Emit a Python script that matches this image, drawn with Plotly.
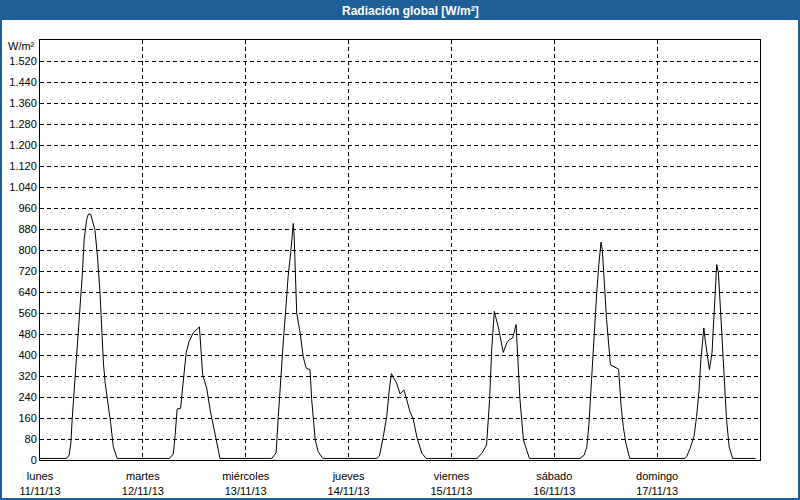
import plotly.graph_objects as go
import pandas as pd

# ---- data (hours since Mon 11/11/13 00:00, W/m²) ----
hours = [0, 6.2, 6.8, 7.2, 7.5, 8.0, 8.8, 9.3, 9.9, 10.3, 10.9, 11.3, 11.8, 12.8, 13.4, 14.0, 14.4, 14.8, 15.2, 15.9, 16.5, 17.1, 18.0,
         30.2, 31.1, 31.5, 32.0, 32.8, 33.3, 34.1, 34.8, 35.8, 36.7, 37.2, 37.95, 38.9, 39.7, 40.8, 42.0,
         54.1, 55.1, 55.6, 56.2, 56.8, 57.4, 57.9, 58.5, 59.1, 59.3, 59.9, 60.7, 61.4, 62.1, 63.0, 63.4, 64.2, 64.9, 66.0,
         78.6, 79.2, 80.1, 80.9, 81.5, 82.0, 82.4, 83.2, 84.0, 84.9, 85.6, 86.3, 87.1, 88.0, 89.1, 90.1,
         102.0, 103.1, 104.2, 104.9, 105.4, 106.0, 106.9, 108.1, 108.9, 109.5, 110.3, 111.1, 111.2, 112.0, 112.8, 114.2,
         126.0, 127.0, 127.6, 128.1, 128.7, 129.3, 129.9, 130.4, 130.9, 131.2, 132.2, 133.1, 134.1, 135.0, 135.6, 136.1, 136.7, 137.6,
         150.5, 150.9, 151.7, 152.6, 153.2, 153.8, 154.2, 154.9, 155.2, 155.7, 156.2, 156.8, 157.3, 157.9, 158.3, 158.9, 159.6, 160.2, 160.8, 161.6, 167.0]
radiation = [6, 6, 19, 65, 153, 267, 458, 560, 713, 840, 917, 937, 937, 879, 777, 637, 497, 369, 294, 217, 140, 51, 6,
             6, 23, 89, 194, 197, 280, 408, 452, 486, 499, 507, 325, 274, 191, 102, 6,
             6, 28, 165, 331, 458, 586, 700, 790, 901, 853, 560, 484, 395, 350, 344, 229, 79, 32, 6,
             6, 15, 89, 165, 267, 329, 316, 293, 252, 267, 229, 185, 155, 83, 26, 6,
             6, 26, 57, 229, 420, 566, 509, 410, 446, 458, 465, 516, 478, 229, 76, 6,
             6, 19, 51, 140, 306, 497, 637, 745, 830, 802, 535, 363, 354, 346, 204, 127, 64, 6,
             6, 13, 45, 89, 165, 267, 382, 503, 458, 401, 344, 408, 547, 745, 713, 547, 318, 153, 51, 6, 6]

day_names = ["lunes", "martes", "miércoles", "jueves", "viernes", "sábado", "domingo"]
day_dates = ["11/11/13", "12/11/13", "13/11/13", "14/11/13", "15/11/13", "16/11/13", "17/11/13"]
y_ticks = list(range(0, 1600, 80))
y_labels = [f"{v:,}".replace(",", ".") for v in y_ticks]

title = "Radiación global [W/m²]"
y_unit = "W/m²"

start = pd.Timestamp("2013-11-11")
times = start + pd.to_timedelta(hours, unit="h")
day_ticks = [start + pd.Timedelta(days=i) for i in range(7)]

W, H = 800, 500
ML, MR, MT, MB = 40, 40, 40, 40
BLUE = "#1E6096"
FONT = "Liberation Sans"

def px_x(x):
    return (x - ML) / (W - ML - MR)

def px_y(y):
    return (H - MB - y) / (H - MT - MB)

fig = go.Figure()
fig.add_trace(go.Scatter(x=times, y=radiation, mode="lines",
                         line=dict(color="black", width=1), hoverinfo="skip"))

fig.update_layout(
    width=W, height=H,
    margin=dict(l=ML, r=MR, t=MT, b=MB),
    paper_bgcolor="white", plot_bgcolor="white",
    showlegend=False,
    font=dict(family=FONT, size=11, color="black"),
    xaxis=dict(type="date", range=[start, start + pd.Timedelta(days=7)],
               tickvals=day_ticks,
               ticktext=[f"{n}<br>{d}" for n, d in zip(day_names, day_dates)],
               showgrid=True, gridcolor="black", gridwidth=1, griddash="4px,3px",
               showline=True, linecolor="black", linewidth=1, mirror=True,
               ticks="", zeroline=False, automargin=False, ticklabelstandoff=6,
               tickfont=dict(family=FONT, size=11)),
    yaxis=dict(range=[0, 1600], tickvals=y_ticks, ticktext=y_labels,
               showgrid=True, gridcolor="black", gridwidth=1, griddash="4px,3px",
               showline=True, linecolor="black", linewidth=1, mirror=True,
               ticks="", zeroline=False, automargin=False,
               tickfont=dict(family=FONT, size=11)),
    shapes=[
        dict(type="rect", xref="paper", yref="paper",
             x0=px_x(0), x1=px_x(W), y0=px_y(0), y1=px_y(20),
             fillcolor=BLUE, line=dict(width=0), layer="above"),
        dict(type="rect", xref="paper", yref="paper",
             x0=px_x(0), x1=px_x(W), y0=px_y(0), y1=px_y(H),
             fillcolor="rgba(0,0,0,0)", line=dict(color=BLUE, width=4), layer="above"),
    ],
    annotations=[
        dict(text=f"<b>{title}</b>", xref="paper", yref="paper",
             x=px_x(411), y=px_y(10.5), xanchor="center", yanchor="middle",
             showarrow=False, font=dict(family=FONT, size=12, color="white")),
        dict(text=y_unit, xref="paper", yref="paper",
             x=px_x(37), y=px_y(46), xanchor="right", yanchor="middle",
             showarrow=False, font=dict(family=FONT, size=11, color="black")),
    ],
)

fig.write_html("out.html", config={"displayModeBar": False},
               post_script="document.body.style.margin='0';document.body.style.padding='0';"
                           "document.documentElement.style.overflow='hidden';")
